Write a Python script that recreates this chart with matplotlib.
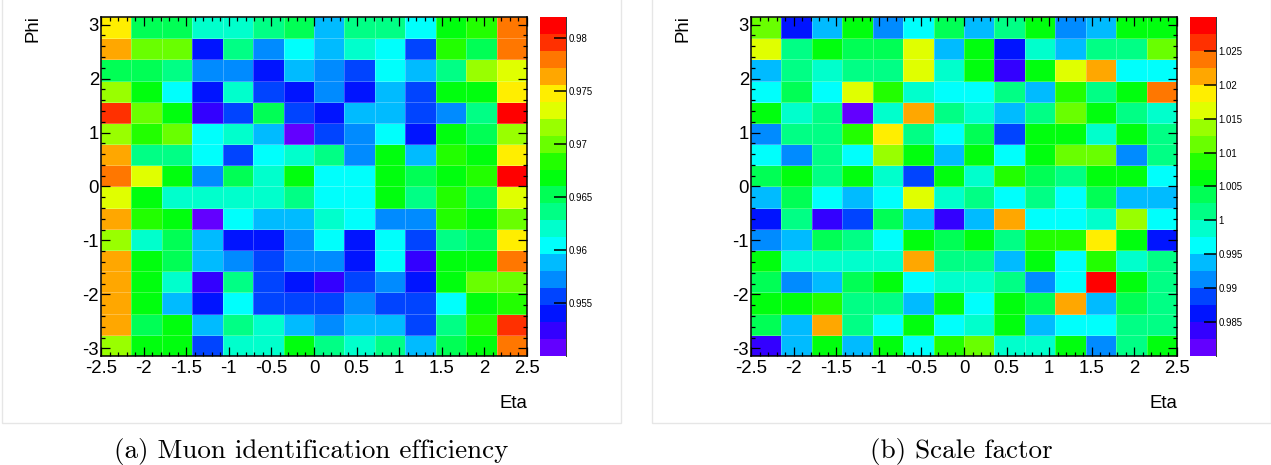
import colorsys
import numpy as np
import matplotlib
matplotlib.use("Agg")
import matplotlib.pyplot as plt
from matplotlib.colors import ListedColormap, BoundaryNorm
from matplotlib.patches import Rectangle
from matplotlib.lines import Line2D
from matplotlib.ticker import MultipleLocator

plt.rcParams['font.family'] = ['Liberation Sans', 'DejaVu Sans']
plt.rcParams['axes.unicode_minus'] = False

# binning: 14 eta bins x 16 phi bins
n_eta, n_phi = 14, 16
eta_range = (-2.5, 2.5)
phi_range = (-np.pi, np.pi)

# muon identification efficiency, rows from phi = +pi (top) down to -pi
eff = [
    [0.9748, 0.9652, 0.9652, 0.9620, 0.9620, 0.9636, 0.9652, 0.9588, 0.9636, 0.9636, 0.9604, 0.9668, 0.9684, 0.9780],
    [0.9764, 0.9700, 0.9700, 0.9540, 0.9636, 0.9572, 0.9604, 0.9588, 0.9620, 0.9604, 0.9556, 0.9684, 0.9652, 0.9780],
    [0.9652, 0.9652, 0.9636, 0.9572, 0.9572, 0.9540, 0.9588, 0.9572, 0.9556, 0.9604, 0.9588, 0.9636, 0.9716, 0.9732],
    [0.9716, 0.9668, 0.9604, 0.9540, 0.9620, 0.9556, 0.9540, 0.9572, 0.9540, 0.9588, 0.9556, 0.9668, 0.9668, 0.9748],
    [0.9796, 0.9700, 0.9668, 0.9524, 0.9556, 0.9652, 0.9556, 0.9540, 0.9588, 0.9588, 0.9556, 0.9572, 0.9636, 0.9812],
    [0.9716, 0.9684, 0.9700, 0.9604, 0.9620, 0.9588, 0.9508, 0.9556, 0.9572, 0.9604, 0.9540, 0.9668, 0.9652, 0.9716],
    [0.9764, 0.9636, 0.9636, 0.9604, 0.9556, 0.9604, 0.9620, 0.9636, 0.9572, 0.9668, 0.9588, 0.9684, 0.9668, 0.9748],
    [0.9780, 0.9732, 0.9668, 0.9572, 0.9652, 0.9620, 0.9668, 0.9604, 0.9604, 0.9668, 0.9652, 0.9668, 0.9684, 0.9812],
    [0.9732, 0.9668, 0.9620, 0.9620, 0.9620, 0.9620, 0.9636, 0.9604, 0.9604, 0.9668, 0.9636, 0.9684, 0.9652, 0.9732],
    [0.9764, 0.9684, 0.9668, 0.9508, 0.9604, 0.9588, 0.9588, 0.9620, 0.9604, 0.9572, 0.9572, 0.9684, 0.9668, 0.9700],
    [0.9716, 0.9620, 0.9652, 0.9588, 0.9540, 0.9540, 0.9572, 0.9604, 0.9540, 0.9604, 0.9556, 0.9636, 0.9652, 0.9748],
    [0.9764, 0.9668, 0.9652, 0.9588, 0.9572, 0.9556, 0.9572, 0.9572, 0.9540, 0.9604, 0.9524, 0.9668, 0.9668, 0.9780],
    [0.9764, 0.9668, 0.9620, 0.9524, 0.9636, 0.9556, 0.9540, 0.9524, 0.9556, 0.9572, 0.9540, 0.9668, 0.9700, 0.9700],
    [0.9764, 0.9668, 0.9588, 0.9540, 0.9604, 0.9556, 0.9556, 0.9556, 0.9572, 0.9556, 0.9556, 0.9604, 0.9668, 0.9684],
    [0.9764, 0.9652, 0.9668, 0.9588, 0.9636, 0.9620, 0.9588, 0.9572, 0.9588, 0.9588, 0.9556, 0.9636, 0.9684, 0.9796],
    [0.9716, 0.9668, 0.9668, 0.9556, 0.9620, 0.9620, 0.9668, 0.9636, 0.9620, 0.9636, 0.9588, 0.9652, 0.9668, 0.9780],
]

# data/MC scale factor, same layout
sf = [
    [1.0113, 0.9863, 0.9938, 1.0063, 0.9913, 0.9963, 1.0038, 0.9938, 1.0013, 1.0063, 0.9913, 0.9938, 1.0063, 1.0063],
    [1.0163, 1.0013, 1.0063, 1.0038, 1.0038, 1.0163, 0.9938, 1.0063, 0.9863, 0.9988, 0.9938, 1.0013, 1.0013, 1.0113],
    [0.9938, 1.0013, 0.9988, 1.0013, 1.0013, 1.0163, 0.9988, 1.0063, 0.9838, 1.0063, 1.0163, 1.0213, 0.9963, 0.9963],
    [0.9963, 1.0038, 0.9963, 1.0163, 1.0088, 0.9988, 0.9963, 0.9963, 1.0013, 0.9938, 1.0088, 1.0013, 1.0063, 1.0238],
    [1.0063, 0.9988, 1.0013, 0.9813, 0.9988, 1.0213, 1.0013, 0.9988, 0.9938, 1.0013, 1.0113, 1.0063, 1.0013, 0.9988],
    [0.9913, 1.0013, 1.0013, 1.0088, 1.0188, 1.0013, 0.9963, 1.0038, 0.9888, 1.0063, 1.0063, 0.9988, 1.0063, 1.0013],
    [0.9963, 0.9913, 1.0013, 0.9963, 1.0138, 1.0063, 0.9938, 1.0063, 0.9963, 1.0063, 1.0113, 1.0113, 0.9913, 1.0013],
    [1.0038, 1.0063, 1.0013, 1.0063, 0.9988, 0.9888, 1.0063, 0.9988, 1.0088, 1.0038, 1.0013, 1.0063, 1.0063, 0.9963],
    [0.9938, 1.0038, 0.9963, 0.9938, 0.9963, 1.0163, 0.9988, 1.0013, 0.9963, 1.0013, 0.9963, 1.0038, 0.9938, 0.9938],
    [0.9863, 1.0013, 0.9838, 0.9888, 1.0038, 0.9938, 0.9838, 0.9938, 1.0213, 0.9963, 0.9963, 0.9988, 1.0138, 0.9963],
    [0.9913, 0.9938, 1.0038, 1.0013, 0.9963, 1.0063, 1.0038, 1.0063, 1.0013, 1.0088, 1.0088, 1.0188, 1.0063, 0.9863],
    [1.0063, 0.9988, 0.9988, 0.9988, 0.9988, 1.0213, 1.0013, 1.0013, 0.9938, 1.0063, 0.9963, 1.0088, 0.9988, 1.0013],
    [1.0038, 0.9913, 0.9938, 1.0038, 1.0063, 0.9963, 0.9988, 0.9988, 1.0013, 0.9913, 0.9963, 1.0288, 1.0063, 1.0013],
    [1.0063, 1.0063, 1.0088, 1.0013, 1.0013, 0.9938, 1.0063, 0.9963, 1.0063, 1.0038, 1.0213, 0.9938, 1.0038, 1.0013],
    [1.0038, 0.9938, 1.0213, 1.0013, 0.9963, 1.0063, 0.9963, 0.9988, 1.0063, 0.9938, 0.9963, 0.9963, 1.0013, 1.0013],
    [0.9838, 0.9938, 1.0063, 0.9938, 1.0063, 0.9963, 1.0088, 1.0113, 0.9988, 0.9988, 1.0063, 0.9913, 1.0013, 1.0063],
]

eff_zrange = (0.950, 0.982)
sf_zrange = (0.980, 1.030)
eff_ticks = [0.955, 0.96, 0.965, 0.97, 0.975, 0.98]
sf_ticks = [0.985, 0.99, 0.995, 1.0, 1.005, 1.01, 1.015, 1.02, 1.025]
captions = ["(a) Muon identification efficiency", "(b) Scale factor"]

W, H = 1271, 465
N_LEVELS = 20


def root_palette():
    # ROOT "pretty" palette (violet -> red), sampled like a 20-contour COLZ
    pretty = []
    for i in range(49):
        hue = 280 - (i + 1) * 280 / 50
        pretty.append(colorsys.hls_to_rgb(hue / 360, 0.5, 1.0))
    pretty.append((1.0, 0.0, 0.0))
    return ListedColormap([pretty[int((k + 0.99) * 50 / N_LEVELS)] for k in range(N_LEVELS)])


def px_box(x0, y0, x1, y1):
    # pixel box (top-left origin) -> figure fraction rect
    return [x0 / W, (H - y1) / H, (x1 - x0) / W, (y1 - y0) / H]


fig = plt.figure(figsize=(W / 100, H / 100), dpi=100)
cmap = root_palette()

eta_edges = np.linspace(eta_range[0], eta_range[1], n_eta + 1)
phi_edges = np.linspace(phi_range[0], phi_range[1], n_phi + 1)


def draw_panel(off, values, zrange, cticks, caption):
    # light frame around the sub-figure
    fig.add_artist(Rectangle(((off + 2) / W, (H - 423) / H), 619 / W, 1.0,
                             transform=fig.transFigure, fill=False,
                             edgecolor='#e6e6e6', lw=1.0))

    ax = fig.add_axes(px_box(off + 101, 17, off + 527, 356))
    norm = BoundaryNorm(np.linspace(zrange[0], zrange[1], N_LEVELS + 1), N_LEVELS)
    z = np.array(values)[::-1]
    mesh = ax.pcolormesh(eta_edges, phi_edges, z, cmap=cmap, norm=norm,
                         edgecolors=(1, 1, 1, 0.25), linewidth=0.4)
    ax.set_xlim(eta_range)
    ax.set_ylim(phi_range)
    ax.xaxis.set_major_locator(MultipleLocator(0.5))
    ax.xaxis.set_minor_locator(MultipleLocator(0.1))
    ax.yaxis.set_major_locator(MultipleLocator(1))
    ax.yaxis.set_minor_locator(MultipleLocator(0.2))
    ax.xaxis.set_major_formatter(plt.FormatStrFormatter('%g'))
    ax.yaxis.set_major_formatter(plt.FormatStrFormatter('%g'))
    ax.tick_params(which='both', direction='in', top=True, right=True,
                   width=0.9, color='black')
    ax.tick_params(which='major', length=6.5, labelsize=13.4)
    ax.tick_params(which='minor', length=3.2)
    ax.tick_params(axis='x', which='major', pad=3)
    ax.tick_params(axis='y', which='major', pad=1.5)
    for s in ax.spines.values():
        s.set_linewidth(1.1)

    fig.text((off + 33) / W, 1 - 15 / H, "Phi", rotation=90, ha='center',
             va='top', fontsize=13.4)
    fig.text((off + 527) / W, 1 - 408 / H, "Eta", ha='right', va='baseline',
             fontsize=13.4)

    cax = fig.add_axes(px_box(off + 540, 17, off + 566, 356))
    cb = fig.colorbar(mesh, cax=cax, ticks=cticks)
    cb.outline.set_visible(False)
    cax.add_line(Line2D([1, 1], [0, 1], transform=cax.transAxes, color='#333333',
                        lw=0.7, clip_on=False))
    cax.yaxis.set_major_formatter(plt.FormatStrFormatter('%g'))
    cax.minorticks_off()
    cax.tick_params(axis='y', direction='in', length=8.5, width=1.1,
                    labelsize=6.9, pad=2, color='black')

    fig.text((off + 311) / W, 1 - 458 / H, caption, ha='center', va='baseline',
             fontsize=19.5, family='cmr10')


draw_panel(0, eff, eff_zrange, eff_ticks, captions[0])
draw_panel(650, sf, sf_zrange, sf_ticks, captions[1])

fig.savefig("out.png", dpi=100)
